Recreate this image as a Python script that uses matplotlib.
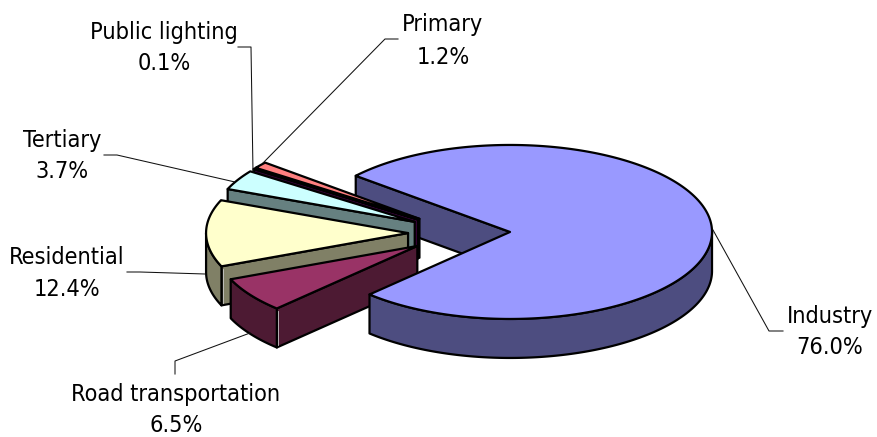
import numpy as np
import matplotlib
matplotlib.use("Agg")
import matplotlib.pyplot as plt
from matplotlib.patches import Polygon

# Share of each sector, clockwise from the start angle
sectors = ['Industry', 'Road transportation', 'Residential', 'Tertiary', 'Public lighting', 'Primary']
shares = [76.0, 6.5, 12.4, 3.7, 0.1, 1.2]

top_colors = ['#9999FF', '#993366', '#FFFFCC', '#CCFFFF', '#660066', '#FF8080']
side_colors = ['#4D4D80', '#4D1A33', '#808066', '#668080', '#330033', '#804040']
explode = [0.24, 0.265, 0.265, 0.265, 0.265, 0.265]

# Label centres and leader lines, in pixels
label_pos = [(830, 332), (176, 410), (67, 273), (62, 156), (164, 48), (443, 41)]
leaders = [
    [(783, 331), (769, 331), (713, 230)],
    [(175, 374), (175, 361), (250, 333)],
    [(127, 272), (140, 272), (205, 274)],
    [(104, 155), (117, 155), (235, 182)],
    [(238, 47), (251, 47), (253, 172)],
    [(398, 39), (385, 39), (263, 163)],
]

# Pie geometry in pixels
cx, cy = 461.6, 233
rx, ry = 202, 87
depth = 39
start_angle = 139.8


def rim(apex, a0, a1, drop=0):
    t = np.radians(np.linspace(a0, a1, max(int(abs(a1 - a0) * 2), 2)))
    return np.column_stack([apex[0] + rx * np.cos(t), apex[1] - ry * np.sin(t) + drop])


fig = plt.figure(figsize=(8.77, 4.37), dpi=100)
ax = fig.add_axes([0, 0, 1, 1])
ax.set_xlim(0, 877)
ax.set_ylim(437, 0)
ax.axis('off')

edge = dict(edgecolor='black', linewidth=1.6, joinstyle='round')

spans = np.array(shares) / sum(shares) * 360
hi = start_angle
for i, span in enumerate(spans):
    lo = hi - span
    mid = np.radians((hi + lo) / 2)
    apex = (cx + explode[i] * rx * np.cos(mid), cy - explode[i] * ry * np.sin(mid))
    # industry sits in front of the others, except for its back cut face
    z = 20 if i == 0 else 10 - i

    # cut face on the counter-clockwise end
    h = np.radians(hi)
    end = (apex[0] + rx * np.cos(h), apex[1] - ry * np.sin(h))
    if np.cos(h) < 0:
        face = [apex, end, (end[0], end[1] + depth), (apex[0], apex[1] + depth)]
        ax.add_patch(Polygon(face, facecolor=side_colors[i], zorder=1 if i == 0 else z, **edge))

    # outer wall, only the part facing the viewer
    for k in (-360, 0):
        a0, a1 = max(lo, 180 + k), min(hi, 360 + k)
        if a0 < a1:
            wall = np.vstack([rim(apex, a0, a1), rim(apex, a1, a0, depth)])
            ax.add_patch(Polygon(wall, facecolor=side_colors[i], zorder=z, **edge))

    top = np.vstack([[apex], rim(apex, hi, lo)])
    ax.add_patch(Polygon(top, facecolor=top_colors[i], zorder=z, **edge))

    # pale highlight along the corner where wall and cut face meet
    if np.cos(h) < 0 and np.sin(h) < 0:
        ax.plot([end[0] + 1.4] * 2, [end[1] + 3, end[1] + depth - 2], color='#c8c8c8', lw=0.6, zorder=z)
    hi = lo

for pts in leaders:
    xs, ys = zip(*pts)
    ax.plot(xs, ys, color='#111111', lw=0.75, zorder=30)

for name, value, (x, y) in zip(sectors, shares, label_pos):
    ax.text(x, y, f"{name}\n{value:.1f}%", ha='center', va='center',
            family='DejaVu Sans', stretch='condensed',
            fontsize=16.8, linespacing=1.5, color='black', zorder=31)

fig.savefig('out.png', dpi=100)
